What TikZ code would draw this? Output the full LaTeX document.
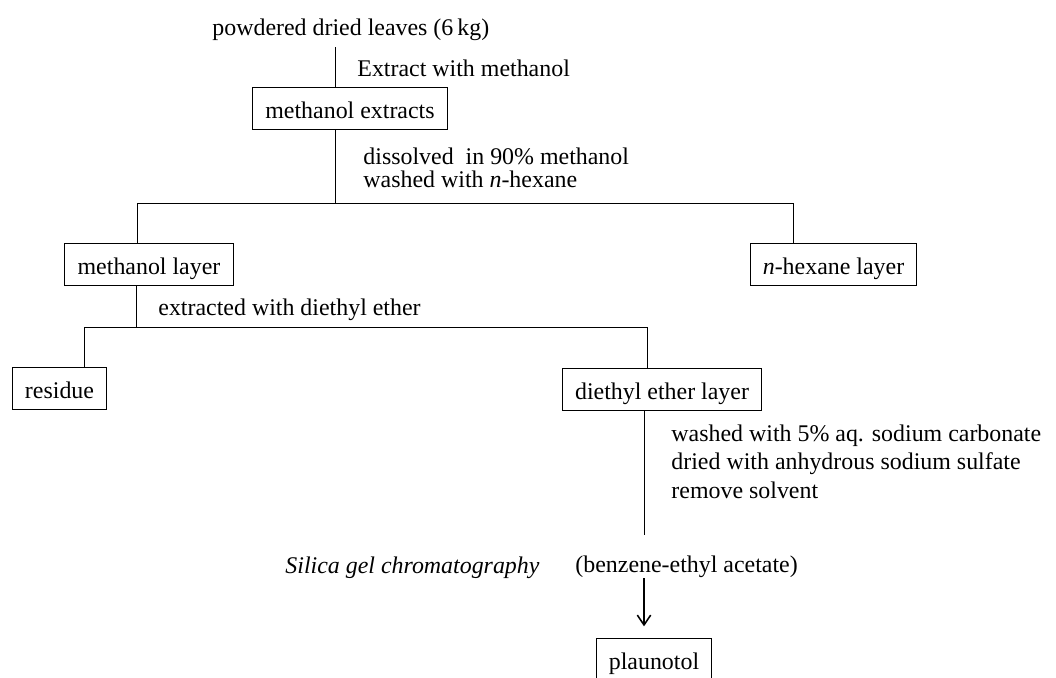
\documentclass[tikz,border=0pt]{standalone}
\usepackage{fontspec}
\setmainfont{Liberation Serif}
\usetikzlibrary{arrows.meta}
\usetikzlibrary{math}
\tikzset{
box/.style={draw, line width=0.7pt, inner xsep=9pt, inner ysep=4pt, text height=17.5pt, text depth=4pt},
lbl/.style={inner sep=0pt, anchor=base west, text height=17.5pt, text depth=4pt},
arr/.style={-{Straight Barb[length=7pt,width=9.5pt]}, line width=1.1pt},
}

\begin{document}
\begin{tikzpicture}[x=0.025cm, y=-0.025cm, line width=0.6pt, font=\fontsize{17}{20}\selectfont]
\tikzmath{
\W=1056;
\H=677;
}
\useasboundingbox (0,0) rectangle (\W,\H);
% steps and products
\node[lbl] (src) at (212,35) {powdered dried leaves (6\,kg)};
\node[lbl] (s1) at (357,76) {Extract with methanol};
\node[box, anchor=base] (ext) at (350,118) {methanol extracts};
\node[lbl] (s2a) at (363,164) {dissolved\ \ in 90\% methanol};
\node[lbl] (s2b) at (363,187) {washed with \textit{n}-hexane};
\node[box, anchor=base] (mlay) at (149,274) {methanol layer};
\node[box, anchor=base] (hex) at (833.5,274) {\textit{n}-hexane layer};
\node[lbl] (s3) at (158,315) {extracted with diethyl ether};
\node[box, anchor=base] (res) at (59.5,398) {residue};
\node[box, anchor=base] (dee) at (662,399) {diethyl ether layer};
\node[lbl] (s4a) at (671,441) {washed with 5\% aq. sodium carbonate};
\node[lbl] (s4b) at (671,469) {dried with anhydrous sodium sulfate};
\node[lbl] (s4c) at (671,498) {remove solvent};
\node[lbl] (sil) at (285,573) {\textit{Silica gel chromatography}};
\node[lbl] (elu) at (575,572) {(benzene-ethyl acetate)};
\node[box, anchor=base] (plau) at (654,669) {plaunotol};
% branch points
\coordinate (ka) at (335,203);
\coordinate (kb) at (137,203);
\coordinate (kc) at (793,203);
\coordinate (kd) at (136,327);
\coordinate (ke) at (84,327);
\coordinate (kf) at (647,327);
\coordinate (kg) at (644,535);
% connectors
\draw[shorten <=4.5pt] (src.south -| ka) -- (ext.north -| ka);
\draw (ext.south -| ka) -- (ka);
\draw (mlay.north -| kb) -- (kb) -- (kc) -- (hex.north -| kc);
\draw (mlay.south -| kd) -- (kd);
\draw (res.north -| ke) -- (ke) -- (kf) -- (dee.north -| kf);
\draw (dee.south -| kg) -- (kg);
\draw[arr, shorten >=8.5pt] (elu.south -| kg) -- (plau.north -| kg);
\end{tikzpicture}
\end{document}
